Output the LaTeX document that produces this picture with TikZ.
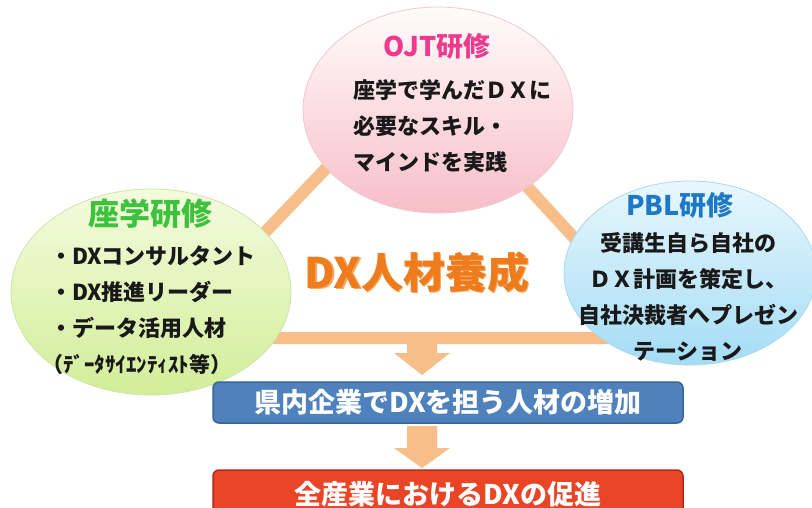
\documentclass[tikz,border=0pt]{standalone}
\usepackage{fontspec}
\usetikzlibrary{shapes.geometric,calc}
\newfontfamily\jp{Noto Sans CJK JP}
\definecolor{peach}{HTML}{F7BE8A}
\definecolor{ojtc}{HTML}{EE3A8C}
\definecolor{zac}{HTML}{3DC23D}
\definecolor{pblc}{HTML}{1E78C8}
\definecolor{boxblue}{HTML}{4F81BD}
\definecolor{boxblueline}{HTML}{3A6496}
\definecolor{boxred}{HTML}{EA4427}
\definecolor{boxredline}{HTML}{B8281A}
\definecolor{dxorange}{HTML}{EE7C1C}
\definecolor{dxlight}{HTML}{F6A963}
\tikzset{
  bubble/.style={ellipse, inner sep=0pt, line width=0.8pt},
  title/.style={font=\jp\bfseries\fontsize{27}{27}\selectfont, inner sep=0pt},
  body/.style={font=\jp\bfseries\fontsize{22}{36}\selectfont, text=black!90, inner sep=0pt},
  resultbox/.style={rounded corners=6pt, line width=1.5pt, minimum width=470pt, text=white,
     font=\jp\bfseries\fontsize{27}{27}\selectfont},
  downarrow/.style={fill=peach, draw=none}
}
\begin{document}
\begin{tikzpicture}[x=1pt,y=-1pt]
\clip (0,0) rectangle (812,508);
\fill[white] (0,0) rectangle (812,508);
% triangle
\coordinate (tv) at (420,70);
\coordinate (lv) at (164,338);
\coordinate (rv) at (666,338);
\draw[peach, line width=12pt, line join=miter] (lv) -- (tv) -- (rv) -- cycle;
% arrows
\coordinate (a1) at (422,338);
\fill[downarrow] ($(a1)+(-15,0)$) -- ($(a1)+(15,0)$) -- ($(a1)+(15,15)$)
  -- ($(a1)+(28,15)$) -- ($(a1)+(0,37)$) -- ($(a1)+(-28,15)$)
  -- ($(a1)+(-15,15)$) -- cycle;
\coordinate (a2) at (422,426);
\fill[downarrow] ($(a2)+(-15,0)$) -- ($(a2)+(15,0)$) -- ($(a2)+(15,22)$)
  -- ($(a2)+(28,22)$) -- ($(a2)+(0,42)$) -- ($(a2)+(-28,22)$)
  -- ($(a2)+(-15,22)$) -- cycle;
% ellipses
\node[bubble, minimum width=270pt, minimum height=206pt, top color=pink!5!white, bottom color={rgb,255:red,247;green,190;blue,200}, draw={rgb,255:red,240;green,200;blue,205}] (ojt) at (438,110) {};
\node[bubble, minimum width=280pt, minimum height=206pt, top color={rgb,255:red,244;green,251;blue,222}, bottom color={rgb,255:red,210;green,238;blue,152}, draw={rgb,255:red,205;green,228;blue,170}] (za) at (151,292) {};
\node[bubble, minimum width=252pt, minimum height=184pt, top color={rgb,255:red,232;green,247;blue,253}, bottom color={rgb,255:red,164;green,220;blue,245}, draw={rgb,255:red,170;green,215;blue,235}] (pbl) at (690,273) {};
% titles and texts
\node[title, text=ojtc] (ojtt) at (437,46) {OJT研修};
\node[body, align=left, anchor=west] (ojtb) at (353,126) {座学で学んだＤＸに\\必要なスキル・\\マインドを実践};
\node[title, text=zac, font=\jp\bfseries\fontsize{31}{31}\selectfont] (zat) at (150,214) {座学研修};
\node[body, align=left, anchor=west] (zab) at (50,310) {・DXコンサルタント\\・DX推進リーダー\\・データ活用人材\\{\fontsize{21}{21}\selectfont\hspace*{-8pt}（ﾃﾞｰﾀｻｲｴﾝﾃｨｽﾄ等）}};
\node[title, text=pblc] (pblt) at (680,205) {PBL研修};
\node[body, align=center] (pblb) at (688,297) {受講生自ら自社の\\ＤＸ計画を策定し、\\自社決裁者へプレゼン\\テーション};
% center label
\node[font=\jp\bfseries\fontsize{42}{42}\selectfont, text=dxlight, inner sep=0pt] (dxs) at (418.5,273.5) {DX人材養成};
\node[font=\jp\bfseries\fontsize{42}{42}\selectfont, text=dxorange, inner sep=0pt] (dx) at (417,272) {DX人材養成};
% result boxes
\node[resultbox, fill=boxblue, draw=boxblueline, minimum height=41pt] (b1) at (448,402.5) {県内企業でDXを担う人材の増加};
\node[resultbox, fill=boxred, draw=boxredline, minimum height=46pt, text depth=0pt] (b2) at (448,493) {全産業におけるDXの促進};
\end{tikzpicture}
\end{document}
